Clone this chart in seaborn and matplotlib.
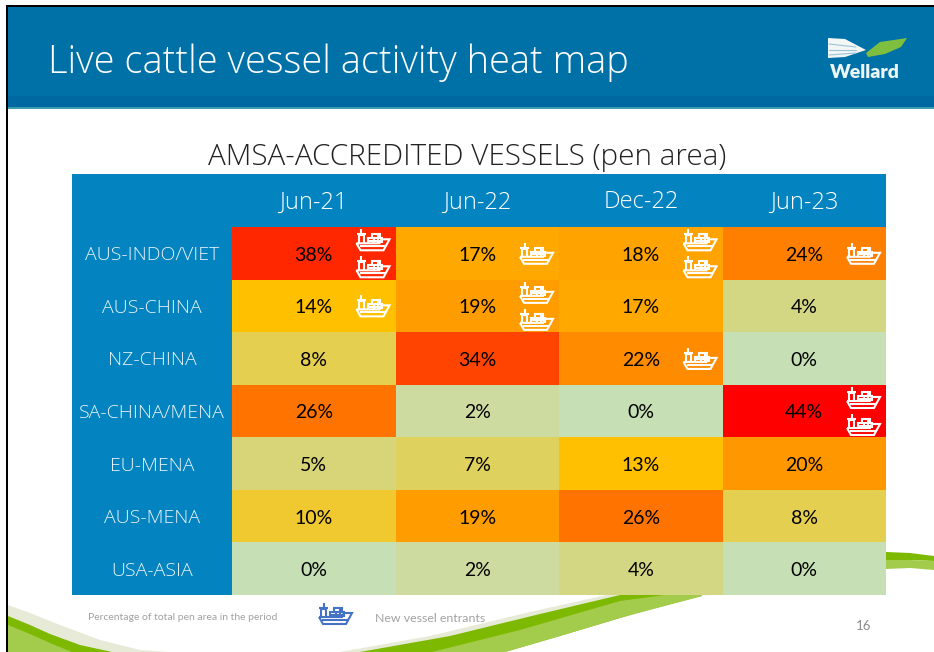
import numpy as np
import pandas as pd
import seaborn as sns
import matplotlib.pyplot as plt
from matplotlib.colors import LinearSegmentedColormap
from matplotlib.patches import Polygon, Rectangle
from matplotlib.transforms import ScaledTranslation

routes = ['AUS-INDO/VIET', 'AUS-CHINA', 'NZ-CHINA', 'SA-CHINA/MENA', 'EU-MENA', 'AUS-MENA', 'USA-ASIA']
periods = ['Jun-21', 'Jun-22', 'Dec-22', 'Jun-23']
pct = [[38, 17, 18, 24],
       [14, 19, 17, 4],
       [8, 34, 22, 0],
       [26, 2, 0, 44],
       [5, 7, 13, 20],
       [10, 19, 26, 8],
       [0, 2, 4, 0]]
ships = [[2, 1, 2, 1],
         [1, 2, 0, 0],
         [0, 0, 1, 0],
         [0, 0, 0, 2],
         [0, 0, 0, 0],
         [0, 0, 0, 0],
         [0, 0, 0, 0]]
color_stops = [(0, '#C6DFB4'), (2, '#CDDB9F'), (4, '#D3D784'), (8, '#E4CF50'), (10, '#F0C830'),
               (13, '#FFC000'), (14, '#FFC000'), (17, '#FFA800'), (24, '#FF8000'), (34, '#FF4300'),
               (44, '#FF0000')]

W, H = 934, 652
sns.set_theme(style='white')
plt.rcParams['font.family'] = ['Lato', 'DejaVu Sans']
thin = ['Open Sans', 'DejaVu Sans']

fig = plt.figure(figsize=(W / 100, H / 100), dpi=100, facecolor='white')
bg = fig.add_axes([0, 0, 1, 1], zorder=0)
bg.set_xlim(0, W)
bg.set_ylim(H, 0)
bg.axis('off')


def shape(pts, color, z=1):
    bg.add_patch(Polygon(pts, fc=color, ec='none', zorder=z))


# green swoosh, bottom of the slide
grey, dark, light = '#E6EAD6', '#7DB900', '#A4CC4C'
shape([(8, 605), (30, 613), (60, 625), (100, 640), (140, 650), (170, 652), (8, 652)], grey, 1)
shape([(8, 616), (30, 625), (50, 634), (80, 645), (112, 652), (8, 652)], dark, 2)
shape([(8, 625), (30, 634), (50, 643), (72, 652), (8, 652)], light, 3)
shape([(340, 652), (430, 636), (530, 612), (620, 592), (710, 585), (710, 595), (620, 600),
       (530, 625), (440, 652)], grey, 1)
shape([(360, 652), (450, 636), (540, 614), (620, 595), (702, 590), (702, 596), (640, 612),
       (560, 636), (505, 652)], dark, 2)
shape([(432, 652), (520, 630), (620, 601), (702, 590), (702, 596), (620, 618), (560, 636),
       (505, 652)], light, 3)
shape([(886, 552), (910, 553), (934, 556), (934, 561), (910, 560), (886, 560)], dark, 2)
shape([(886, 560), (910, 560), (934, 561), (934, 570), (910, 568), (886, 569)], light, 3)

# slide frame and header
bg.add_patch(Rectangle((8, 7), W - 8, 89, fc='#0071A7', ec='none', zorder=4))
bg.add_patch(Rectangle((8, 96), W - 8, 11, fc='#0068A0', ec='none', zorder=4))
bg.add_patch(Rectangle((8, 107), W - 8, 2, fc='#3A9AAE', ec='none', zorder=4))
bg.add_patch(Rectangle((5.5, 5), W, 2.2, fc='black', ec='none', zorder=5))
bg.add_patch(Rectangle((5.5, 5), 2.5, H, fc='black', ec='none', zorder=5))
bg.text(48, 63, 'Live cattle vessel activity heat map', color='white', fontsize=27.4, family=thin,
        fontweight='light', va='center', ha='left', zorder=6)

# logo
shape([(828, 38), (845, 39), (866, 50), (845, 57), (828, 58)], '#F2F6F4', 6)
for y0, y1 in [(44, 47), (50, 50), (55, 53)]:
    bg.plot([829, 856], [y0, y1], color='#9CC4D6', lw=0.8, zorder=7)
shape([(866, 53), (880, 42), (907, 38), (901, 47), (885, 54), (868, 57)], '#7FBF3F', 6)
bg.text(864.5, 73, 'Wellard', color='#EEF5F5', fontsize=14, fontweight='heavy', ha='center', va='center', zorder=6)

bg.text(467, 157, 'AMSA-ACCREDITED VESSELS (pen area)', color='#222222', fontsize=21.3, family=thin,
        fontweight='light', ha='center', va='center', zorder=6)
bg.add_patch(Rectangle((72, 174), 814, 421, fc='#0383BF', ec='none', zorder=6))

# footer
bg.text(88, 618, 'Percentage of total pen area in the period', color='#555555', fontsize=7.5, alpha=0.55,
        ha='left', va='center', zorder=6)
bg.text(375, 618, 'New vessel entrants', color='#555555', fontsize=8.9, alpha=0.55, ha='left', va='center', zorder=6)
bg.text(864, 626, '16', color='#8A8A8A', fontsize=9.5, ha='center', va='center', zorder=6)

# the heat map itself
ax = fig.add_axes([232 / W, 1 - 595 / H, 654 / W, 368 / H], zorder=2)
df = pd.DataFrame(pct, index=routes, columns=periods)
labels = df.astype(str) + '%'
vmax = color_stops[-1][0]
cmap = LinearSegmentedColormap.from_list('vessels', [(v / vmax, c) for v, c in color_stops])
sns.heatmap(df, annot=labels, fmt='', cmap=cmap, vmin=0, vmax=vmax, cbar=False, ax=ax,
            annot_kws={'color': 'black', 'fontsize': 14})
ax.xaxis.tick_top()
ax.set_xlabel('')
ax.set_ylabel('')
ax.tick_params(axis='x', length=0, pad=9, labelcolor='white', labelsize=17, rotation=0)
ax.tick_params(axis='y', length=0, pad=57.5, labelcolor='#E8F4FA', labelsize=14, rotation=0)
sx = len(periods) / 654
sy = len(routes) / 368
down = ScaledTranslation(0, -2 / 100, fig.dpi_scale_trans)
for t in ax.get_xticklabels():
    t.set_family(thin)
    t.set_fontweight('light')
for t in ax.get_yticklabels():
    t.set_ha('center')
    t.set_family(thin)
    t.set_fontweight('light')
    t.set_transform(t.get_transform() + down)
for t in ax.texts:
    t.set_y(t.get_position()[1] + 2 * sy)


def draw_ship(a, x0, y0, kx, ky, color):
    # x0, y0 top left of the icon, 34x21 px
    segs = [[(1, 14), (24, 14), (26, 10), (34, 10), (28, 21), (5, 21), (1, 14)],
            [(4, 17), (30, 17)],
            [(3, 14), (3, 6), (8, 6), (8, 14)],
            [(1, 5), (10, 5)],
            [(5.5, 0), (5.5, 5)],
            [(12, 14), (12, 9), (26, 9), (26, 14)],
            [(16, 9), (16, 5), (24, 5), (24, 9)],
            [(12, 11.5), (26, 11.5)],
            [(18, 9), (18, 14)],
            [(22, 5), (22, 14)]]
    for s in segs:
        s = np.array(s, dtype=float)
        a.plot(x0 + s[:, 0] * kx, y0 + s[:, 1] * ky, color=color, lw=1.5, solid_joinstyle='miter',
               solid_capstyle='butt', zorder=7)


for r, row in enumerate(ships):
    for c, n in enumerate(row):
        offsets = {0: [], 1: [0], 2: [-13.5, 13.5]}[n]
        for off in offsets:
            draw_ship(ax, c + 1 - 40 * sx, r + 0.5 + (off - 10.5) * sy, sx, sy, 'white')
draw_ship(bg, 318, 603, 1, 1, '#4472C4')

fig.savefig('out.png', dpi=100)
